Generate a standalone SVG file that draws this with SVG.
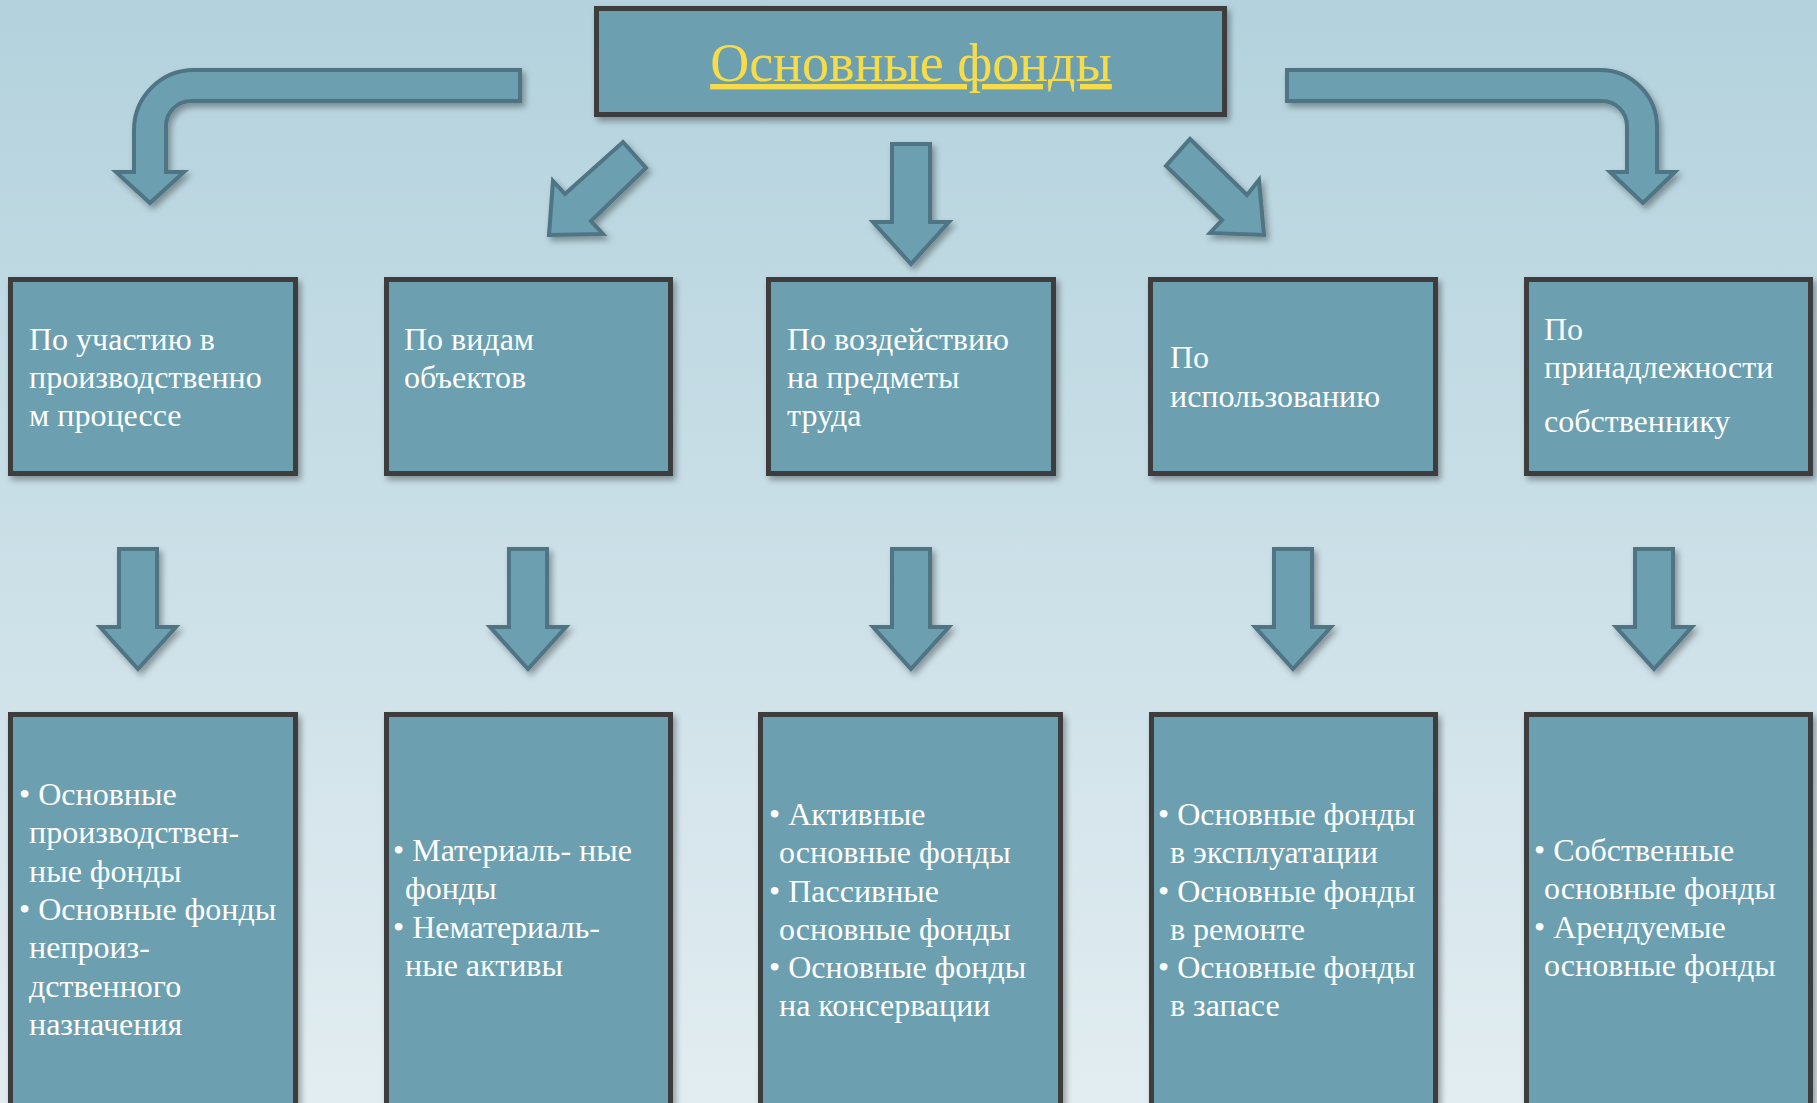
<svg xmlns="http://www.w3.org/2000/svg" width="1817" height="1103" viewBox="0 0 1817 1103">
<defs>
<linearGradient id="bg" x1="0" y1="0" x2="0" y2="1">
<stop offset="0" stop-color="#b3d2dd"/>
<stop offset="1" stop-color="#e2edf1"/>
</linearGradient>
<filter id="sh" x="-10%" y="-10%" width="125%" height="125%">
<feDropShadow dx="3" dy="4" stdDeviation="3" flood-color="#000" flood-opacity="0.35"/>
</filter>
<path id="down" d="M-19,0 H19 V78 H38 L0,120 L-38,78 H-19 Z"/>
</defs>
<style>
.box{fill:#6c9fb0;stroke:#3c3c3c;stroke-width:5;filter:url(#sh)}
.arr{fill:#6c9fb0;stroke:#4f7584;stroke-width:4;stroke-linejoin:miter;filter:url(#sh)}
.t{font-family:"Liberation Serif","Times New Roman",serif;font-size:32px;fill:#ffffff}
.title{font-family:"Liberation Serif","Times New Roman",serif;font-size:54px;fill:#f7dc4a;text-decoration:underline;text-decoration-thickness:4px}
</style>
<rect x="0" y="0" width="1817" height="1103" fill="url(#bg)"/>

<g id="connectors">
<path class="arr" d="M520,70 H194 A60,60 0 0 0 134,130 V172 H116 L150,203 L184,172 H166 V126 A25,25 0 0 1 191,101 H520 Z"/>
<path class="arr" d="M1287,70 H1600 A57,57 0 0 1 1657,127 V172 H1675 L1643,203 L1610,172 H1627 V126 A25,25 0 0 0 1602,101 H1287 Z"/>
<path class="arr" d="M623,142 L646,168 L591,221 L603,234 L549,235 L553,181 L565,194 Z"/>
<path class="arr" d="M1190,139 L1247,195 L1259,180 L1264,235 L1210,233 L1222,220 L1166,166 Z"/>
<use href="#down" class="arr" x="911" y="144"/>
<use href="#down" class="arr" x="138" y="549"/>
<use href="#down" class="arr" x="528" y="549"/>
<use href="#down" class="arr" x="911" y="549"/>
<use href="#down" class="arr" x="1293" y="549"/>
<use href="#down" class="arr" x="1654" y="549"/>
</g>

<g id="root">
<rect class="box" x="596.5" y="8.5" width="628" height="106"/>
<text class="title" x="911" y="81" text-anchor="middle">Основные фонды</text>
</g>

<g id="cat1">
<rect class="box" x="10.5" y="279.5" width="285" height="194"/>
<text class="t"><tspan x="29" y="350">По участию в</tspan><tspan x="29" y="388">производственно</tspan><tspan x="29" y="426">м процессе</tspan></text>
</g>
<g id="cat2">
<rect class="box" x="386.5" y="279.5" width="284" height="194"/>
<text class="t"><tspan x="404" y="350">По видам</tspan><tspan x="404" y="388">объектов</tspan></text>
</g>
<g id="cat3">
<rect class="box" x="768.5" y="279.5" width="285" height="194"/>
<text class="t"><tspan x="787" y="350">По воздействию</tspan><tspan x="787" y="388">на предметы</tspan><tspan x="787" y="426">труда</tspan></text>
</g>
<g id="cat4">
<rect class="box" x="1150.5" y="279.5" width="285" height="194"/>
<text class="t"><tspan x="1170" y="368">По</tspan><tspan x="1170" y="407">использованию</tspan></text>
</g>
<g id="cat5">
<rect class="box" x="1526.5" y="279.5" width="284" height="194"/>
<text class="t"><tspan x="1544" y="340">По</tspan><tspan x="1544" y="378">принадлежности</tspan><tspan x="1544" y="432">собственнику</tspan></text>
</g>

<g id="list1">
<rect class="box" x="10.5" y="714.5" width="285" height="420"/>
<text class="t"><tspan x="19" y="805">• Основные</tspan><tspan x="29" y="843">производствен-</tspan><tspan x="29" y="882">ные фонды</tspan><tspan x="19" y="920">• Основные фонды</tspan><tspan x="29" y="958">непроиз-</tspan><tspan x="29" y="997">дственного</tspan><tspan x="29" y="1035">назначения</tspan></text>
</g>
<g id="list2">
<rect class="box" x="386.5" y="714.5" width="284" height="420"/>
<text class="t"><tspan x="393" y="861">• Материаль- ные</tspan><tspan x="405" y="899">фонды</tspan><tspan x="393" y="938">• Нематериаль-</tspan><tspan x="405" y="976">ные активы</tspan></text>
</g>
<g id="list3">
<rect class="box" x="760.5" y="714.5" width="300" height="420"/>
<text class="t"><tspan x="769" y="825">• Активные</tspan><tspan x="779" y="863">основные фонды</tspan><tspan x="769" y="902">• Пассивные</tspan><tspan x="779" y="940">основные фонды</tspan><tspan x="769" y="978">• Основные фонды</tspan><tspan x="779" y="1016">на консервации</tspan></text>
</g>
<g id="list4">
<rect class="box" x="1151.5" y="714.5" width="284" height="420"/>
<text class="t"><tspan x="1158" y="825">• Основные фонды</tspan><tspan x="1170" y="863">в эксплуатации</tspan><tspan x="1158" y="902">• Основные фонды</tspan><tspan x="1170" y="940">в ремонте</tspan><tspan x="1158" y="978">• Основные фонды</tspan><tspan x="1170" y="1016">в запасе</tspan></text>
</g>
<g id="list5">
<rect class="box" x="1526.5" y="714.5" width="284" height="420"/>
<text class="t"><tspan x="1534" y="861">• Собственные</tspan><tspan x="1544" y="899">основные фонды</tspan><tspan x="1534" y="938">• Арендуемые</tspan><tspan x="1544" y="976">основные фонды</tspan></text>
</g>
</svg>
